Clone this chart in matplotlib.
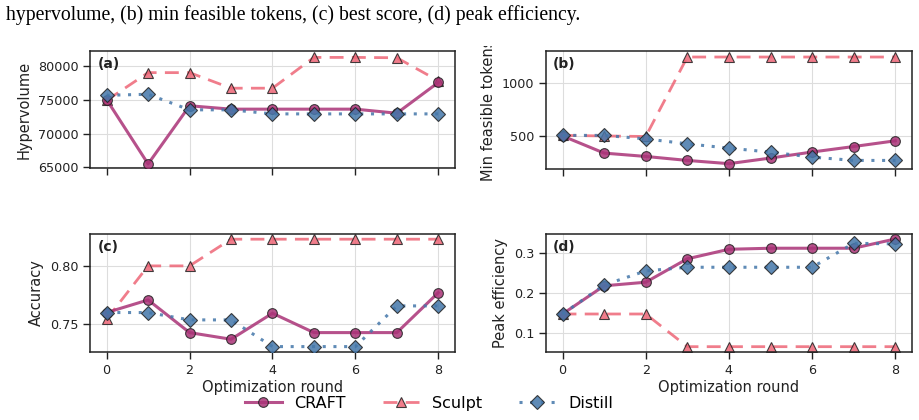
import matplotlib.pyplot as plt
from matplotlib.transforms import Bbox, TransformedBbox

rounds = [0, 1, 2, 3, 4, 5, 6, 7, 8]

# (a) hypervolume
hv_craft = [75000, 65500, 74100, 73600, 73600, 73600, 73600, 73000, 77550]
hv_sculpt = [74900, 79000, 79000, 76700, 76700, 81250, 81250, 81200, 77800]
hv_distill = [75650, 75800, 73500, 73500, 72900, 72900, 72900, 72900, 72900]

# (b) min feasible tokens
tok_craft = [505, 346, 315, 278, 248, 300, 356, 407, 460]
tok_sculpt = [510, 505, 500, 1237, 1237, 1237, 1237, 1237, 1237]
tok_distill = [510, 510, 478, 432, 392, 355, 309, 278, 278]

# (c) accuracy
acc_craft = [0.760, 0.7708, 0.7428, 0.7371, 0.7594, 0.7428, 0.7428, 0.7428, 0.7771]
acc_sculpt = [0.7543, 0.80, 0.80, 0.8229, 0.8229, 0.8229, 0.8229, 0.8229, 0.8229]
acc_distill = [0.760, 0.760, 0.7537, 0.7537, 0.7308, 0.7308, 0.7308, 0.7657, 0.7657]

# (d) peak efficiency
eff_craft = [0.147, 0.218, 0.227, 0.286, 0.310, 0.3126, 0.3126, 0.3126, 0.336]
eff_sculpt = [0.147, 0.147, 0.147, 0.0647, 0.0647, 0.0647, 0.0647, 0.0647, 0.0647]
eff_distill = [0.147, 0.220, 0.2555, 0.2647, 0.2647, 0.2647, 0.2647, 0.325, 0.3236]

panels = [
    ("(a)", "Hypervolume", hv_craft, hv_sculpt, hv_distill, (64900, 82200), [65000, 70000, 75000, 80000]),
    ("(b)", "Min feasible tokens", tok_craft, tok_sculpt, tok_distill, (200, 1293), [500, 1000]),
    ("(c)", "Accuracy", acc_craft, acc_sculpt, acc_distill, (0.7262, 0.8274), [0.75, 0.80]),
    ("(d)", "Peak efficiency", eff_craft, eff_sculpt, eff_distill, (0.0514, 0.3486), [0.1, 0.2, 0.3]),
]

c_craft = "#AA3377"
c_sculpt = "#EE6677"
c_distill = "#4477AA"

plt.rcParams['font.family'] = 'DejaVu Sans'

fig = plt.figure(figsize=(9.19, 4.2), dpi=100)
rects = [
    [0.098, 0.600, 0.397, 0.2786],
    [0.594, 0.598, 0.3983, 0.2806],
    [0.098, 0.162, 0.397, 0.281],
    [0.594, 0.162, 0.3983, 0.281],
]

fig.text(0.006, 0.963, "hypervolume, (b) min feasible tokens, (c) best score, (d) peak efficiency.",
         family='Liberation Serif', fontsize=14.2, va='center', ha='left')

for i, (tag, ylab, yc, ys, yd, ylim, yt) in enumerate(panels):
    ax = fig.add_axes(rects[i])
    ax.plot(rounds, yc, color=c_craft, lw=2.2, alpha=0.85, marker='o', ms=7,
            mfc=c_craft, mec='#222222', mew=0.8, label="CRAFT", zorder=3)
    ax.plot(rounds, ys, color=c_sculpt, lw=2.0, alpha=0.85, ls=(0, (5, 3)), marker='^', ms=7,
            mfc=c_sculpt, mec='#222222', mew=0.8, label="Sculpt", zorder=2)
    ax.plot(rounds, yd, color=c_distill, lw=2.2, alpha=0.85, ls=(0, (1, 2.5)), marker='D', ms=7,
            mfc=c_distill, mec='#222222', mew=0.8, label="Distill", zorder=4)
    ax.set_xlim(-0.4, 8.4)
    ax.set_ylim(*ylim)
    ax.set_yticks(yt)
    ax.set_xticks([0, 2, 4, 6, 8])
    ax.grid(True, color='#dddddd', lw=0.8)
    ax.set_axisbelow(True)
    for s in ax.spines.values():
        s.set_linewidth(1.1)
        s.set_color('#222222')
    ax.tick_params(labelsize=9.2, length=5, width=1, color='#222222', labelcolor='#222222')
    ax.set_ylabel(ylab, fontsize=10.5, color='#222222')
    ax.text(0.02, 0.95, tag, transform=ax.transAxes, fontsize=10, fontweight='bold',
            va='top', ha='left', color='#222222')
    if i >= 2:
        ax.set_xlabel("Optimization round", fontsize=10.5, color='#222222', labelpad=2)
    else:
        ax.tick_params(labelbottom=False)
    if i == 1:
        lab = ax.yaxis.label
        lab.set_clip_on(True)
        lab.set_clip_box(TransformedBbox(Bbox([[0, 0], [1, 1 - 46 / 420]]), fig.transFigure))
    if i == 0:
        handles, labels = ax.get_legend_handles_labels()

fig.legend(handles, labels, loc='center', bbox_to_anchor=(0.467, 0.04), ncol=3,
           frameon=False, fontsize=11.5, handlelength=2.3, columnspacing=2.3, handletextpad=0.8)

fig.savefig("out.png", dpi=100)
